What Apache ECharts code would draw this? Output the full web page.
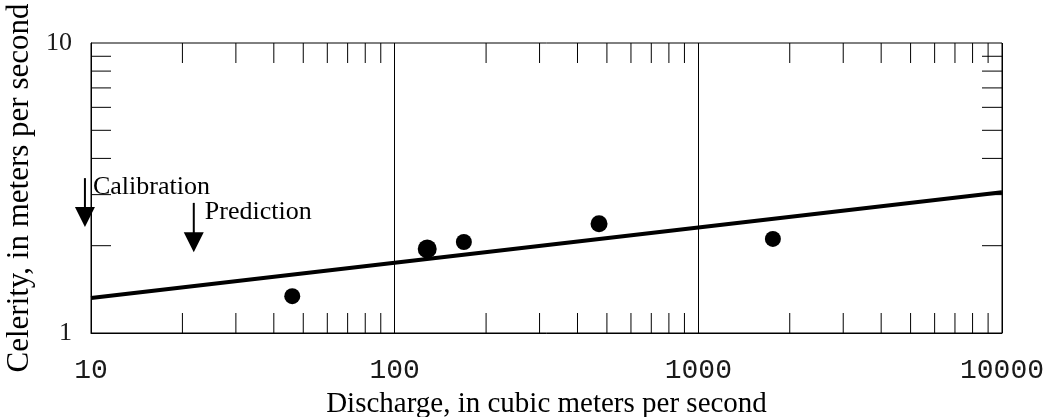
<!DOCTYPE html>
<html>
<head>
<meta charset="utf-8">
<script src="https://cdn.jsdelivr.net/npm/echarts@6/dist/echarts.min.js"></script>
<style>html,body{margin:0;padding:0;background:#fff}#c{width:1054px;height:417px}</style>
</head>
<body>
<div id="c"></div>
<script>
// ---- data ----
var xTickLabels = [10, 100, 1000, 10000];
var yTickLabels = [1, 10];
var observedPoints = [[46, 1.34], [128, 1.95], [169, 2.06], [471, 2.38], [1760, 2.11]];
var pointSizes = [16, 19, 16, 17, 16];
var fitLine = [[10, 1.32], [10000, 3.06]];
var minorX = [20,30,40,50,60,70,80,90,200,300,400,500,600,700,800,900,2000,3000,4000,5000,6000,7000,8000,9000];
var minorY = [2,3,4,5,6,7,8,9];
// arrows: [x, yTop, yTip]
var arrowCalibration = [9.55, 3.42, 2.32];
var arrowPrediction = [21.8, 2.81, 1.90];
var labelCalibration = 'Calibration';
var labelPrediction = 'Prediction';

var serif = '"Liberation Serif", "DejaVu Serif", serif';
var mono = '"Liberation Mono", "DejaVu Sans Mono", monospace';

var chart = echarts.init(document.getElementById('c'));
var option = {
  animation: false,
  backgroundColor: '#fff',
  grid: { left: 91, right: 52, top: 43, bottom: 84, containLabel: false, outerBoundsMode: 'none',
    show: true, borderColor: '#000', borderWidth: 1, backgroundColor: 'transparent' },
  xAxis: {
    type: 'log', logBase: 10, min: 10, max: 10000,
    name: 'Discharge, in cubic meters per second',
    nameLocation: 'middle', nameGap: 55,
    nameTextStyle: { fontFamily: serif, fontSize: 29, color: '#000' },
    axisLine: { show: true, lineStyle: { color: '#000', width: 1 } },
    axisTick: { show: false },
    minorTick: { show: false },
    axisLabel: { fontFamily: mono, fontSize: 28, color: '#1a1a1a', margin: 24,
      formatter: function (v) { return xTickLabels.indexOf(Math.round(v)) >= 0 ? String(Math.round(v)) : ''; } },
    splitLine: { show: true, lineStyle: { color: '#000', width: 1 } }
  },
  yAxis: {
    type: 'log', logBase: 10, min: 1, max: 10,
    name: 'Celerity, in meters per second',
    nameLocation: 'middle', nameGap: 45,
    nameTextStyle: { fontFamily: serif, fontSize: 31, color: '#000' },
    axisLine: { show: true, lineStyle: { color: '#000', width: 1 } },
    axisTick: { show: false },
    axisLabel: { fontFamily: serif, fontSize: 26, color: '#1a1a1a', margin: 19,
      formatter: function (v) { return yTickLabels.indexOf(Math.round(v)) >= 0 ? String(Math.round(v)) : ''; } },
    splitLine: { show: false }
  },
  series: [
    { type: 'line', data: fitLine, symbol: 'none', lineStyle: { color: '#000', width: 4 }, z: 3 },
    { type: 'scatter', data: observedPoints, symbol: 'circle',
      symbolSize: function (v, p) { return pointSizes[p.dataIndex]; },
      itemStyle: { color: '#000', opacity: 1 }, z: 4 }
  ]
};
chart.setOption(option);

function px(x, y) { return chart.convertToPixel({ gridIndex: 0 }, [x, y]); }
var g = [];
var tl = 20;
var lt = px(10, 10), rb = px(10000, 1);
var stroke = { stroke: '#000', lineWidth: 1 };
minorX.forEach(function (v) {
  var p = px(v, 1);
  g.push({ type: 'line', shape: { x1: p[0], y1: rb[1], x2: p[0], y2: rb[1] - tl }, style: stroke, z: 10 });
  g.push({ type: 'line', shape: { x1: p[0], y1: lt[1], x2: p[0], y2: lt[1] + tl }, style: stroke, z: 10 });
});
minorY.forEach(function (v) {
  var p = px(10, v);
  g.push({ type: 'line', shape: { x1: lt[0], y1: p[1], x2: lt[0] + tl, y2: p[1] }, style: stroke, z: 10 });
  g.push({ type: 'line', shape: { x1: rb[0], y1: p[1], x2: rb[0] - tl, y2: p[1] }, style: stroke, z: 10 });
});
function arrow(a, label, dx, dy) {
  var top = px(a[0], a[1]), tip = px(a[0], a[2]);
  var headLen = 20, headHalf = 10;
  g.push({ type: 'line', shape: { x1: top[0], y1: top[1], x2: top[0], y2: tip[1] - headLen + 1 }, style: { stroke: '#000', lineWidth: 2 }, z: 10 });
  g.push({ type: 'polygon', shape: { points: [[tip[0] - headHalf, tip[1] - headLen], [tip[0] + headHalf, tip[1] - headLen], [tip[0], tip[1]]] }, style: { fill: '#000' }, z: 10 });
  g.push({ type: 'text', x: top[0] + dx, y: top[1] + dy, style: { text: label, font: '26px ' + serif, fill: '#000', textVerticalAlign: 'middle', textAlign: 'left' }, z: 10 });
}
arrow(arrowCalibration, labelCalibration, 8, 9);
arrow(arrowPrediction, labelPrediction, 11, 9);
chart.setOption({ graphic: g });
</script>
</body>
</html>
